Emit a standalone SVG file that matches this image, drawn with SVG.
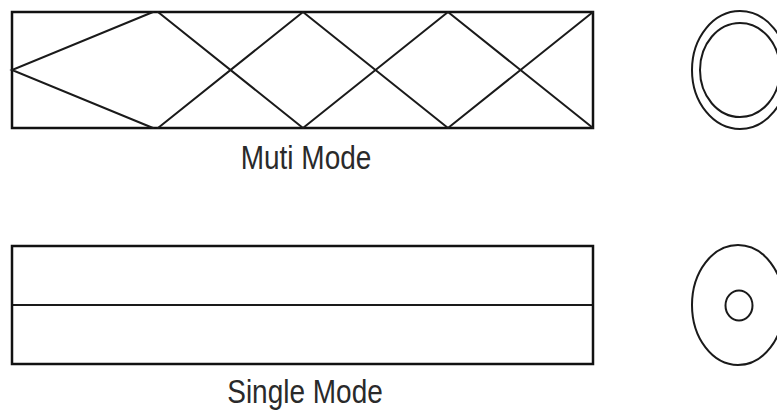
<svg xmlns="http://www.w3.org/2000/svg" width="777" height="415" viewBox="0 0 777 415">
  <style>
    .fiber { fill: none; stroke: #111; stroke-width: 2.5; }
    .ray { fill: none; stroke: #1a1a1a; stroke-width: 2; stroke-linecap: round; }
    .core { fill: none; stroke: #1a1a1a; stroke-width: 2; }
    .label { font-family: "Liberation Sans", Arial, sans-serif; font-size: 28px; fill: #2a2a2a; text-anchor: middle; }
  </style>
  <rect width="777" height="415" fill="#ffffff"/>

  <!-- multi-mode fibre: side view with zig-zag rays -->
  <g id="multi-mode-side">
    <rect class="fiber" x="12" y="12" width="581" height="116"/>
  </g>
  <g id="connectors">
    <polyline class="ray" points="153,12 12,70 153,128"/>
    <line class="ray" x1="158" y1="12" x2="303" y2="128"/>
    <line class="ray" x1="158" y1="128" x2="303" y2="12"/>
    <line class="ray" x1="303" y1="12" x2="448" y2="128"/>
    <line class="ray" x1="303" y1="128" x2="448" y2="12"/>
    <line class="ray" x1="448" y1="12" x2="593" y2="128"/>
    <line class="ray" x1="448" y1="128" x2="593" y2="12"/>
    <line class="ray" x1="12" y1="305" x2="593" y2="305"/>
  </g>
  <g id="multi-mode-label">
    <text class="label" transform="translate(306,169) scale(1,1.18)">Muti Mode</text>
  </g>

  <!-- multi-mode fibre: cross-section -->
  <g id="multi-mode-section">
    <ellipse class="core" cx="740" cy="70" rx="48" ry="59"/>
    <ellipse class="core" cx="740" cy="70" rx="40" ry="47"/>
  </g>

  <!-- single-mode fibre: side view -->
  <g id="single-mode-side">
    <rect class="fiber" x="12" y="246" width="581" height="118"/>
  </g>
  <g id="single-mode-label">
    <text class="label" transform="translate(305,403) scale(1,1.18)">Single Mode</text>
  </g>

  <!-- single-mode fibre: cross-section -->
  <g id="single-mode-section">
    <ellipse class="core" cx="738" cy="305" rx="46" ry="60"/>
    <ellipse class="core" cx="739" cy="305.5" rx="13.5" ry="15"/>
  </g>
</svg>
